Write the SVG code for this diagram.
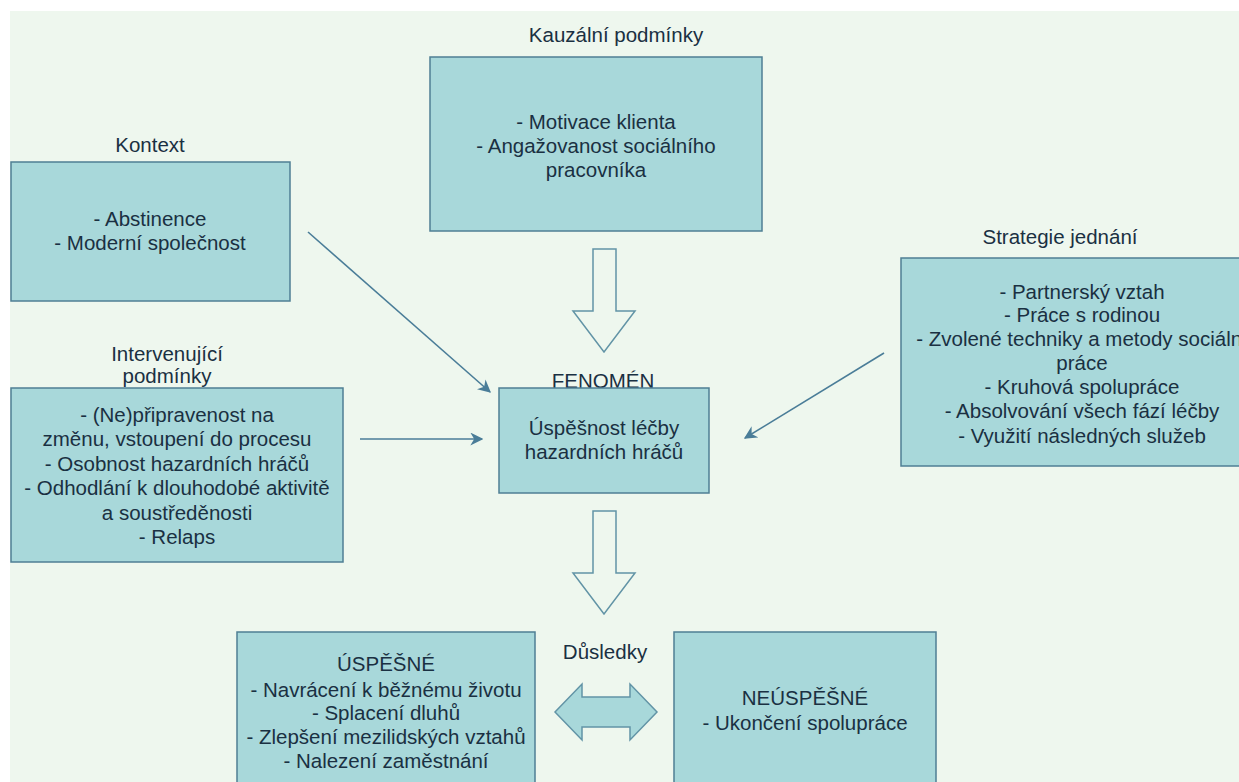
<svg xmlns="http://www.w3.org/2000/svg" width="1239" height="782" viewBox="0 0 1239 782">
<defs>
<style>
.box{fill:#a8d8da;stroke:#4f7f94;stroke-width:1.5}
.t{font-family:"Liberation Sans",Arial,sans-serif;font-size:20.5px;fill:#1a3042;text-anchor:middle}
.ln{stroke:#4a7d98;stroke-width:1.6;fill:none}
.blk{fill:#eef7ee;stroke:#6294a6;stroke-width:1.5}
.dbl{fill:#a8d8da;stroke:#6294a6;stroke-width:1.5}
</style>
<marker id="ah" viewBox="0 0 10 10" refX="9" refY="5" markerWidth="13" markerHeight="13" markerUnits="userSpaceOnUse" orient="auto">
<path d="M0,0 L10,5 L0,10 L3,5 Z" fill="#4a7d98"/>
</marker>
</defs>
<rect x="0" y="0" width="1239" height="782" fill="#ffffff"/>
<rect x="10" y="11" width="1229" height="771" fill="#eef7ee"/>

<g id="kauzalni">
<text class="t" x="616" y="42">Kauzální podmínky</text>
<rect class="box" x="430" y="57" width="332" height="174"/>
<text class="t" x="596" y="129">- Motivace klienta</text>
<text class="t" x="596" y="153">- Angažovanost sociálního</text>
<text class="t" x="596" y="177">pracovníka</text>
</g>

<g id="kontext">
<text class="t" x="150" y="152">Kontext</text>
<rect class="box" x="11" y="162" width="279" height="139"/>
<text class="t" x="150" y="226">- Abstinence</text>
<text class="t" x="150" y="250">- Moderní společnost</text>
</g>

<g id="strategie">
<text class="t" x="1060" y="244">Strategie jednání</text>
<rect class="box" x="901" y="258" width="360" height="208"/>
<text class="t" x="1082" y="299">- Partnerský vztah</text>
<text class="t" x="1082" y="322">- Práce s rodinou</text>
<text class="t" x="1082" y="346">- Zvolené techniky a metody sociální</text>
<text class="t" x="1082" y="370">práce</text>
<text class="t" x="1082" y="394">- Kruhová spolupráce</text>
<text class="t" x="1082" y="418">- Absolvování všech fází léčby</text>
<text class="t" x="1082" y="443">- Využití následných služeb</text>
</g>

<g id="intervenujici">
<text class="t" x="167" y="361">Intervenující</text>
<text class="t" x="167" y="383">podmínky</text>
<rect class="box" x="11" y="388" width="332" height="174"/>
<text class="t" x="177" y="422">- (Ne)připravenost na</text>
<text class="t" x="177" y="446">změnu, vstoupení do procesu</text>
<text class="t" x="177" y="471">- Osobnost hazardních hráčů</text>
<text class="t" x="177" y="495">- Odhodlání k dlouhodobé aktivitě</text>
<text class="t" x="177" y="520">a soustředěnosti</text>
<text class="t" x="177" y="544">- Relaps</text>
</g>

<g id="fenomen">
<text class="t" x="603" y="388">FENOMÉN</text>
<rect class="box" x="499" y="388" width="210" height="105"/>
<text class="t" x="604" y="435">Úspěšnost léčby</text>
<text class="t" x="604" y="459">hazardních hráčů</text>
</g>

<g id="dusledky">
<text class="t" x="605" y="659">Důsledky</text>
</g>

<g id="uspesne">
<rect class="box" x="237" y="632" width="298" height="170"/>
<text class="t" x="386" y="671">ÚSPĚŠNÉ</text>
<text class="t" x="386" y="697">- Navrácení k běžnému životu</text>
<text class="t" x="386" y="720">- Splacení dluhů</text>
<text class="t" x="386" y="744">- Zlepšení mezilidských vztahů</text>
<text class="t" x="386" y="768">- Nalezení zaměstnání</text>
</g>

<g id="neuspesne">
<rect class="box" x="674" y="632" width="262" height="170"/>
<text class="t" x="805" y="705">NEÚSPĚŠNÉ</text>
<text class="t" x="805" y="730">- Ukončení spolupráce</text>
</g>

<g id="connectors">
<line class="ln" x1="308" y1="232" x2="490" y2="392" marker-end="url(#ah)"/>
<line class="ln" x1="360" y1="439" x2="482" y2="439" marker-end="url(#ah)"/>
<line class="ln" x1="884" y1="353" x2="745" y2="438" marker-end="url(#ah)"/>
<path class="blk" d="M593,249 H616 V311 H635 L604,352 L573,311 H593 Z"/>
<path class="blk" d="M593,511 H616 V573 H635 L604,614 L573,573 H593 Z"/>
<path class="dbl" d="M555,712 L582,684 V697 H630 V684 L657,712 L630,740 V727 H582 V740 Z"/>
</g>
</svg>
